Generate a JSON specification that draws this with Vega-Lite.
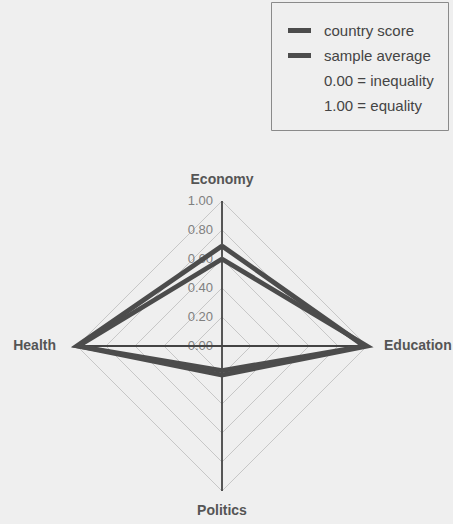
{
  "$schema": "https://vega.github.io/schema/vega-lite/v6.json",
  "width": 453,
  "height": 524,
  "autosize": {"type": "none"},
  "padding": 0,
  "background": "#efefef",
  "config": {
    "view": {"stroke": null},
    "font": "Liberation Sans",
    "legend": {
      "orient": "none",
      "legendX": 271,
      "legendY": 2,
      "symbolType": "stroke",
      "symbolSize": 530,
      "symbolStrokeWidth": 5,
      "labelFont": "Liberation Sans",
      "labelFontSize": 15,
      "labelColor": "#444444",
      "labelOffset": 10,
      "padding": 14,
      "rowPadding": 0,
      "strokeColor": "#8a8a8a"
    }
  },
  "datasets": {
    "scores": [
      {"series": "country score", "axis": "Economy", "value": 0.69, "k": 0},
      {"series": "country score", "axis": "Education", "value": 0.98, "k": 1},
      {"series": "country score", "axis": "Politics", "value": 0.17, "k": 2},
      {"series": "country score", "axis": "Health", "value": 1.0, "k": 3},
      {"series": "country score", "axis": "Economy", "value": 0.69, "k": 4},
      {"series": "sample average", "axis": "Economy", "value": 0.6, "k": 0},
      {"series": "sample average", "axis": "Education", "value": 1.0, "k": 1},
      {"series": "sample average", "axis": "Politics", "value": 0.2, "k": 2},
      {"series": "sample average", "axis": "Health", "value": 0.99, "k": 3},
      {"series": "sample average", "axis": "Economy", "value": 0.6, "k": 4}
    ],
    "grid": [
      {"level": 0.2, "axis": ["Economy", "Education", "Politics", "Health", "Economy"], "k": [0, 1, 2, 3, 4]},
      {"level": 0.4, "axis": ["Economy", "Education", "Politics", "Health", "Economy"], "k": [0, 1, 2, 3, 4]},
      {"level": 0.6, "axis": ["Economy", "Education", "Politics", "Health", "Economy"], "k": [0, 1, 2, 3, 4]},
      {"level": 0.8, "axis": ["Economy", "Education", "Politics", "Health", "Economy"], "k": [0, 1, 2, 3, 4]},
      {"level": 1.0, "axis": ["Economy", "Education", "Politics", "Health", "Economy"], "k": [0, 1, 2, 3, 4]}
    ],
    "ticks": [
      {"label": "0.00", "value": 0},
      {"label": "0.20", "value": 0.2},
      {"label": "0.40", "value": 0.4},
      {"label": "0.60", "value": 0.6},
      {"label": "0.80", "value": 0.8},
      {"label": "1.00", "value": 1.0}
    ],
    "one": [{"id": 1}]
  },
  "layer": [
    {
      "data": {"name": "grid"},
      "transform": [
        {"flatten": ["axis", "k"]},
        {"calculate": "datum.axis === 'Education' ? datum.level : (datum.axis === 'Health' ? -datum.level : 0)", "as": "px"},
        {"calculate": "datum.axis === 'Economy' ? datum.level : (datum.axis === 'Politics' ? -datum.level : 0)", "as": "py"}
      ],
      "mark": {"type": "line", "stroke": "#bdbdbd", "strokeWidth": 0.8},
      "encoding": {
        "x": {"field": "px", "type": "quantitative", "scale": {"domain": [-1.531, 1.593], "nice": false, "zero": false}, "axis": null},
        "y": {"field": "py", "type": "quantitative", "scale": {"domain": [-1.2276, 2.3862], "nice": false, "zero": false}, "axis": null},
        "detail": {"field": "level"},
        "order": {"field": "k"}
      }
    },
    {
      "data": {"name": "ticks"},
      "mark": {"type": "text", "align": "right", "baseline": "middle", "dx": -9, "fontSize": 13, "color": "#808080"},
      "encoding": {
        "x": {"datum": 0, "type": "quantitative"},
        "y": {"field": "value", "type": "quantitative"},
        "text": {"field": "label"}
      }
    },
    {
      "data": {"name": "one"},
      "mark": {"type": "rule", "stroke": "#444444", "strokeWidth": 1.8},
      "encoding": {
        "x": {"datum": -1, "type": "quantitative"},
        "x2": {"datum": 1},
        "y": {"datum": 0, "type": "quantitative"}
      }
    },
    {
      "data": {"name": "one"},
      "mark": {"type": "rule", "stroke": "#444444", "strokeWidth": 1.8},
      "encoding": {
        "x": {"datum": 0, "type": "quantitative"},
        "y": {"datum": -1, "type": "quantitative"},
        "y2": {"datum": 1}
      }
    },
    {
      "data": {"name": "scores"},
      "transform": [
        {"calculate": "datum.axis === 'Education' ? datum.value : (datum.axis === 'Health' ? -datum.value : 0)", "as": "px"},
        {"calculate": "datum.axis === 'Economy' ? datum.value : (datum.axis === 'Politics' ? -datum.value : 0)", "as": "py"}
      ],
      "mark": {"type": "line", "strokeWidth": 4.8, "strokeJoin": "miter"},
      "encoding": {
        "x": {"field": "px", "type": "quantitative"},
        "y": {"field": "py", "type": "quantitative"},
        "color": {
          "field": "series",
          "type": "nominal",
          "scale": {
            "domain": ["country score", "sample average", "0.00 = inequality", "1.00 = equality"],
            "range": ["#4c4c4c", "#4c4c4c", "rgba(0,0,0,0)", "rgba(0,0,0,0)"]
          },
          "legend": {"title": null}
        },
        "order": {"field": "k"}
      }
    },
    {
      "data": {"name": "one"},
      "mark": {"type": "text", "align": "center", "baseline": "middle", "dy": -21, "fontSize": 14, "fontWeight": "bold", "color": "#555555"},
      "encoding": {"x": {"datum": 0, "type": "quantitative"}, "y": {"datum": 1, "type": "quantitative"}, "text": {"value": "Economy"}}
    },
    {
      "data": {"name": "one"},
      "mark": {"type": "text", "align": "left", "baseline": "middle", "dx": 17, "fontSize": 14, "fontWeight": "bold", "color": "#555555"},
      "encoding": {"x": {"datum": 1, "type": "quantitative"}, "y": {"datum": 0, "type": "quantitative"}, "text": {"value": "Education"}}
    },
    {
      "data": {"name": "one"},
      "mark": {"type": "text", "align": "center", "baseline": "middle", "dy": 20, "fontSize": 14, "fontWeight": "bold", "color": "#555555"},
      "encoding": {"x": {"datum": 0, "type": "quantitative"}, "y": {"datum": -1, "type": "quantitative"}, "text": {"value": "Politics"}}
    },
    {
      "data": {"name": "one"},
      "mark": {"type": "text", "align": "right", "baseline": "middle", "dx": -21, "fontSize": 14, "fontWeight": "bold", "color": "#555555"},
      "encoding": {"x": {"datum": -1, "type": "quantitative"}, "y": {"datum": 0, "type": "quantitative"}, "text": {"value": "Health"}}
    }
  ]
}
